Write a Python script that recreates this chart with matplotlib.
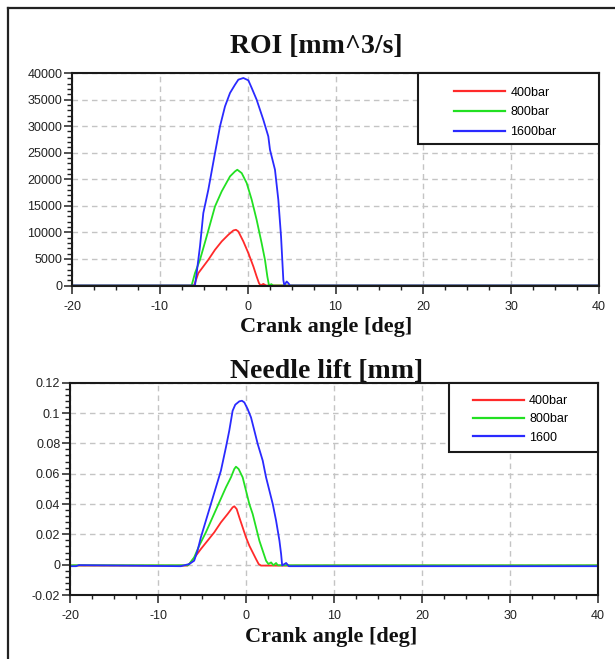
import matplotlib
matplotlib.use('Agg')
import matplotlib.pyplot as plt
from matplotlib.ticker import MultipleLocator, FuncFormatter
from matplotlib.patches import Rectangle
from matplotlib.lines import Line2D

plt.rcParams['font.family'] = 'Liberation Sans'
plt.rcParams['axes.unicode_minus'] = False

W, H = 615, 659
colors = ['#ff2a2a', '#22e022', '#2a2aff']
roi_labels = ['400bar', '800bar', '1600bar']
lift_labels = ['400bar', '800bar', '1600']

# rate of injection [mm^3/s] vs crank angle [deg]
roi_400_deg = [-20, -6.1, -5.62, -5.05, -4.48, -3.72, -2.96, -2.2, -1.63, -1.33, -1.06, -0.49,
               0.08, 0.65, 1.02, 1.29, 1.48, 1.78, 2.09, 40]
roi_400 = [0, 0, 2320, 3580, 4840, 6720, 8290, 9550, 10360, 10490, 10170, 8290,
           6090, 3580, 1700, 440, 0, 300, 0, 0]

roi_800_deg = [-20, -6.38, -6.0, -5.43, -4.67, -3.72, -2.96, -2.01, -1.44, -1.18, -0.68, -0.11,
               0.46, 1.02, 1.59, 1.97, 2.24, 2.43, 2.7, 2.9, 40]
roi_800 = [0, 0, 2320, 4840, 9230, 14880, 17710, 20540, 21480, 21790, 21160, 19280,
           16140, 12370, 7980, 4840, 1700, 0, 250, 0, 0]

roi_1600_deg = [-20, -6.0, -5.81, -5.43, -5.05, -4.48, -3.72, -3.15, -2.58, -2.01, -1.44, -1.06,
                -0.49, 0.08, 0.46, 1.02, 1.78, 2.35, 2.54, 3.11, 3.49, 3.8, 4.06, 4.17,
                4.44, 4.63, 4.82, 40]
roi_1600 = [0, 0, 2320, 7350, 13630, 18020, 24930, 29960, 33720, 36240, 37800, 38750,
            39060, 38620, 37180, 34980, 31210, 28070, 25560, 21790, 16140, 9230, 1070, 0,
            750, 440, 0, 0]

# needle lift [mm] vs crank angle [deg]
lift_400_deg = [-20, -6.65, -6.27, -5.7, -5.13, -4.37, -3.61, -2.85, -2.09, -1.52, -1.33, -1.06,
                -0.76, -0.38, 0.0, 0.38, 0.76, 1.14, 1.44, 1.71, 40]
lift_400 = [-0.0006, -0.0006, 0.0015, 0.0059, 0.0103, 0.0158, 0.0213, 0.0279, 0.0334, 0.0378,
            0.0385, 0.0367, 0.0312, 0.0246, 0.0180, 0.0125, 0.0081, 0.0037, 0.0004, -0.0006,
            -0.0006]

lift_800_deg = [-20, -6.6, -6.46, -5.89, -5.32, -4.56, -3.8, -3.04, -2.28, -1.71, -1.33, -1.14,
                -0.84, -0.38, 0.0, 0.38, 0.76, 1.14, 1.52, 1.9, 2.28, 2.55, 2.85, 3.12, 3.42,
                3.61, 40]
lift_800 = [-0.0004, -0.0004, 0.0004, 0.0048, 0.0125, 0.0213, 0.0312, 0.0411, 0.0510, 0.0576,
            0.0631, 0.0646, 0.0631, 0.0576, 0.0488, 0.0400, 0.0334, 0.0246, 0.0158, 0.0092,
            0.0026, 0.0004, 0.0015, -0.0004, 0.0011, -0.0004, -0.0004]

lift_1600_deg = [-20, -19.3, -19.0, -7.41, -6.46, -5.89, -5.51, -5.13, -4.56, -3.99, -3.42, -2.85,
                 -2.28, -1.9, -1.52, -1.22, -0.76, -0.46, -0.19, 0.19, 0.57, 0.95, 1.33, 1.9,
                 2.28, 2.66, 3.04, 3.42, 3.8, 3.99, 4.11, 4.56, 4.87, 40]
lift_1600 = [-0.001, -0.001, -0.0003, -0.001, 0.0004, 0.0026, 0.0092, 0.0180, 0.0290, 0.0400,
             0.0510, 0.0620, 0.0774, 0.0884, 0.1015, 0.1055, 0.1077, 0.1081, 0.1070, 0.1026,
             0.0971, 0.0884, 0.0796, 0.0686, 0.0576, 0.0488, 0.0400, 0.0290, 0.0158, 0.0070,
             -0.0005, 0.0011, -0.001, -0.001]

roi_series = [(roi_400_deg, roi_400), (roi_800_deg, roi_800), (roi_1600_deg, roi_1600)]
lift_series = [(lift_400_deg, lift_400), (lift_800_deg, lift_800), (lift_1600_deg, lift_1600)]


def px_axes(fig, left, top, right, bottom):
    '''add axes from pixel edges'''
    return fig.add_axes([left / W, 1 - bottom / H, (right - left) / W, (bottom - top) / H])


def style_axes(ax, ylim, ymajor, yminor):
    ax.set_xlim(-20, 40)
    ax.set_ylim(*ylim)
    ax.xaxis.set_major_locator(MultipleLocator(10))
    ax.xaxis.set_minor_locator(MultipleLocator(2.5))
    ax.yaxis.set_major_locator(MultipleLocator(ymajor))
    ax.yaxis.set_minor_locator(MultipleLocator(yminor))
    ax.yaxis.set_major_formatter(FuncFormatter(lambda v, p: f'{round(v, 6):g}'))
    ax.xaxis.set_major_formatter(FuncFormatter(lambda v, p: f'{v:g}'))
    ax.tick_params(which='major', direction='out', length=6, width=1.1, color='#222222',
                   labelsize=9, labelcolor='#222222')
    ax.tick_params(axis='y', which='major', pad=1)
    ax.tick_params(axis='x', which='major', pad=5)
    ax.tick_params(which='minor', direction='out', width=1.0, color='#222222')
    ax.tick_params(axis='x', which='minor', length=3.2)
    ax.tick_params(axis='y', which='minor', length=3.6)
    for s in ax.spines.values():
        s.set_linewidth(1.5)
        s.set_color('#1a1a1a')
    ax.grid(True, which='major', color='#c4c4c4', linestyle=(0, (4, 3)), linewidth=1.0)
    ax.set_axisbelow(True)


def legend_box(ax, labels, x0, y0, line_x, line_y, labelspacing):
    '''square black box with the legend entries inside'''
    ax.add_patch(Rectangle((x0, y0), 1 - x0, 1 - y0, transform=ax.transAxes,
                           facecolor='white', edgecolor='#1a1a1a', linewidth=1.5,
                           zorder=5, clip_on=False))
    leg = ax.legend(labels, loc='upper left', bbox_to_anchor=(line_x, line_y), frameon=False,
                    borderpad=0, borderaxespad=0, handlelength=4.1, handletextpad=0.4,
                    labelspacing=labelspacing, prop={'family': 'Liberation Sans', 'size': 9})
    leg.set_zorder(6)
    for h in leg.get_lines():
        h.set_linewidth(1.6)


fig = plt.figure(figsize=(W / 100, H / 100), dpi=100)

# outer frame (top and left edges)
fig.add_artist(Line2D([7.5 / W, 1], [1 - 7.5 / H, 1 - 7.5 / H], transform=fig.transFigure,
                      color='#222222', linewidth=1.6))
fig.add_artist(Line2D([7.5 / W, 7.5 / W], [1 - 7.5 / H, 0], transform=fig.transFigure,
                      color='#222222', linewidth=1.6))

ax1 = px_axes(fig, 72, 73, 599, 285.5)
style_axes(ax1, (0, 40000), 5000, 1000)
for (x, y), c in zip(roi_series, colors):
    ax1.plot(x, y, color=c, linewidth=1.3, clip_on=False)
legend_box(ax1, roi_labels, 0.6565, 0.666, 0.725, 0.936, 0.62)

ax2 = px_axes(fig, 70, 382.7, 598, 595)
style_axes(ax2, (-0.02, 0.12), 0.02, 0.004)
for (x, y), c in zip(lift_series, colors):
    ax2.plot(x, y, color=c, linewidth=1.3)
legend_box(ax2, lift_labels, 0.718, 0.674, 0.763, 0.941, 0.5)

title_kw = dict(ha='center', va='baseline', fontsize=20, fontweight='bold',
                family='Liberation Serif', color='#111111')
label_kw = dict(ha='center', va='baseline', fontsize=16, fontweight='bold',
                family='Liberation Serif', color='#111111')
fig.text(316 / W, 1 - 53.3 / H, 'ROI [mm^3/s]', **title_kw)
fig.text(326 / W, 1 - 331.7 / H, 'Crank angle [deg]', **label_kw)
fig.text(327 / W, 1 - 377.7 / H, 'Needle lift [mm]', **title_kw)
fig.text(331 / W, 1 - 641.7 / H, 'Crank angle [deg]', **label_kw)

fig.savefig('out.png', dpi=100)
